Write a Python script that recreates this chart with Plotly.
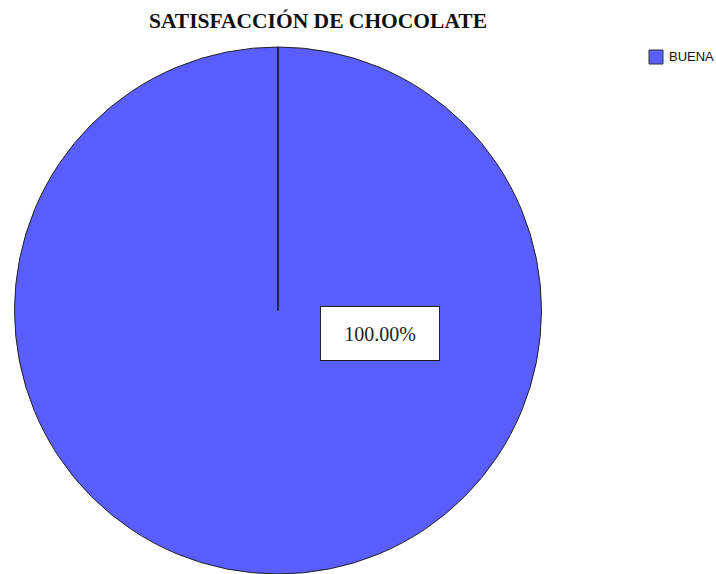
import plotly.graph_objects as go

# Survey result: chocolate satisfaction
categories = ["BUENA"]
counts = [100]
slice_colors = ["#5a5eff"]

total = sum(counts)
shares = [c / total * 100 for c in counts]

W, H = 716, 574
# pie placement (paper fractions); centre x at 278 px
dom_y = [0.0, 1 - 47 / H]
half_w = 265 / W
dom_x = [278 / W - half_w, 278 / W + half_w]

fig = go.Figure()
fig.add_trace(go.Pie(
    labels=categories,
    values=counts,
    sort=False,
    direction="clockwise",
    rotation=0,
    textinfo="none",
    hoverinfo="label+percent",
    marker=dict(colors=slice_colors, line=dict(color="#222222", width=1)),
    domain=dict(x=dom_x, y=dom_y),
    showlegend=False,
))

# slice boundary from the centre up to 12 o'clock
cx = (dom_x[0] + dom_x[1]) / 2
cy = (dom_y[0] + dom_y[1]) / 2
r_px = min((dom_x[1] - dom_x[0]) * W, (dom_y[1] - dom_y[0]) * H) / 2
fig.add_shape(type="line", xref="paper", yref="paper",
              x0=cx, y0=cy, x1=cx, y1=cy + r_px / H,
              line=dict(color="#111111", width=1.5))

# percentage label in a boxed callout
fig.add_annotation(
    x=380.5 / W, y=1 - 333 / H, xref="paper", yref="paper",
    text=f"{shares[0]:.2f}%", showarrow=False,
    font=dict(family="Liberation Serif", size=20, color="#222222"),
    bgcolor="white", bordercolor="#222222", borderwidth=1,
    width=118, height=53, borderpad=0, align="center",
)

# legend key: swatch plus label for each category
key_x, key_y, key_size, key_step = 649, 50, 14, 20
for i, (name, col) in enumerate(zip(categories, slice_colors)):
    top = key_y + i * key_step
    fig.add_shape(type="rect", xref="paper", yref="paper",
                  x0=key_x / W, x1=(key_x + key_size) / W,
                  y0=1 - (top + key_size) / H, y1=1 - top / H,
                  fillcolor=col, line=dict(color="#333333", width=1))
    fig.add_annotation(x=(key_x + key_size + 4) / W, y=1 - (top + key_size / 2) / H,
                       xref="paper", yref="paper", xanchor="left", yanchor="middle",
                       text=name, showarrow=False,
                       font=dict(family="Liberation Sans", size=13, color="#111111"))

fig.update_layout(
    width=W, height=H,
    margin=dict(l=0, r=0, t=0, b=0),
    paper_bgcolor="white",
    plot_bgcolor="white",
    showlegend=False,
    title=dict(text="<b>SATISFACCIÓN DE CHOCOLATE</b>",
               x=318 / W, xanchor="center", y=1 - 20 / H, yanchor="middle",
               font=dict(family="Liberation Serif", size=21.5, color="#111111")),
)

fig.write_html("out.html")
